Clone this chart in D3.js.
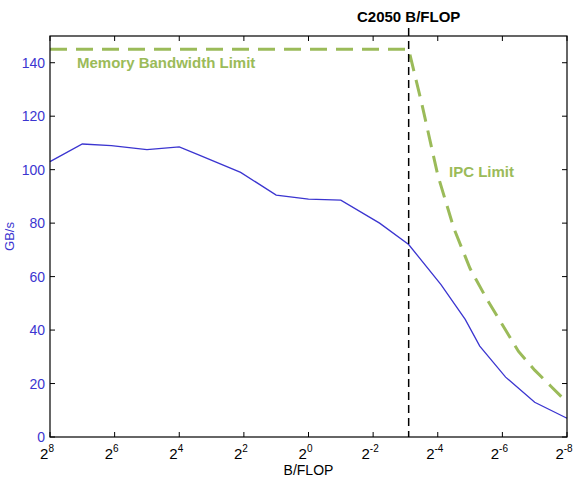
<!DOCTYPE html>
<html><head><meta charset="utf-8">
<script src="https://cdn.jsdelivr.net/npm/d3@7"></script>
<style>body{margin:0;background:#fff;font-family:"Liberation Sans",Arial,sans-serif}</style>
</head><body><div id="chart"></div>
<script>
// log2(B/FLOP) vs GB/s
const measuredExp = [8, 7, 6.1, 5, 4, 3.4, 2.1, 1, 0, -1, -2.2, -3.1, -4.1, -4.85, -5.3, -6.1, -7, -8];
const measuredGBs = [103, 109.6, 109, 107.5, 108.5, 105.5, 99, 90.5, 89, 88.6, 80, 72, 57, 44, 34, 22.4, 13, 7];
const limitExp = [8, -3.1, -3.5, -4, -4.5, -5, -5.5, -6, -6.5, -7, -7.5, -8];
const limitGBs = [145, 145, 125, 98, 78, 63, 52, 42, 32, 25, 19, 13];
const c2050Exp = -3.1;
const xTickExps = [8, 6, 4, 2, 0, -2, -4, -6, -8];
const yTicks = [0, 20, 40, 60, 80, 100, 120, 140];

const W = 578, H = 478;
const m = {left: 50, right: 11, top: 36, bottom: 41};
const blue = "#3b35d0", green = "#9bbb59";

const svg = d3.select("#chart").append("svg").attr("width", W).attr("height", H);
const x = d3.scaleLinear().domain([8, -8]).range([m.left, W - m.right]);
const y = d3.scaleLinear().domain([0, 150]).range([H - m.bottom, m.top]);

const line = d3.line().x(d => x(d[0])).y(d => y(d[1]));

// ticks inward on all four sides
const g = svg.append("g");
xTickExps.forEach(e => {
    g.append("line").attr("x1", x(e)).attr("x2", x(e)).attr("y1", y(0)).attr("y2", y(0) - 5).attr("stroke", "#000");
    g.append("line").attr("x1", x(e)).attr("x2", x(e)).attr("y1", y(150)).attr("y2", y(150) + 5).attr("stroke", "#000");
    const t = g.append("text").attr("x", x(e) - 3).attr("y", y(0) + 22).attr("text-anchor", "middle")
        .attr("font-size", 15).attr("fill", "#000");
    t.append("tspan").text("2");
    t.append("tspan").attr("dy", -7).attr("font-size", 10).text(e);
});
yTicks.forEach(v => {
    g.append("line").attr("x1", x(8)).attr("x2", x(8) + 5).attr("y1", y(v)).attr("y2", y(v)).attr("stroke", "#000");
    g.append("line").attr("x1", x(-8)).attr("x2", x(-8) - 5).attr("y1", y(v)).attr("y2", y(v)).attr("stroke", "#000");
    g.append("text").attr("x", m.left - 5).attr("y", y(v) + 5).attr("text-anchor", "end")
        .attr("font-size", 14).attr("fill", blue).text(v);
});

svg.append("path").datum(d3.zip(limitExp, limitGBs)).attr("d", line)
    .attr("fill", "none").attr("stroke", green).attr("stroke-width", 3).attr("stroke-dasharray", "17,9");
svg.append("path").datum(d3.zip(measuredExp, measuredGBs)).attr("d", line)
    .attr("fill", "none").attr("stroke", blue).attr("stroke-width", 1.3);

svg.append("line").attr("x1", x(c2050Exp)).attr("x2", x(c2050Exp)).attr("y1", 28).attr("y2", y(0))
    .attr("stroke", "#000").attr("stroke-width", 1.5).attr("stroke-dasharray", "8,5");

svg.append("rect").attr("x", m.left).attr("y", m.top).attr("width", W - m.left - m.right)
    .attr("height", H - m.top - m.bottom).attr("fill", "none").attr("stroke", "#000").attr("stroke-width", 1.2);

svg.append("text").attr("x", x(c2050Exp)).attr("y", 22).attr("text-anchor", "middle")
    .attr("font-size", 15).attr("font-weight", "bold").text("C2050 B/FLOP");
svg.append("text").attr("x", 77).attr("y", 68).attr("font-size", 15).attr("font-weight", "bold")
    .attr("fill", green).text("Memory Bandwidth Limit");
svg.append("text").attr("x", 449).attr("y", 177).attr("font-size", 15).attr("font-weight", "bold")
    .attr("fill", green).text("IPC Limit");
svg.append("text").attr("x", (m.left + W - m.right) / 2).attr("y", H - 3).attr("text-anchor", "middle")
    .attr("font-size", 14).text("B/FLOP");
svg.append("text").attr("transform", `translate(14,${y(75)}) rotate(-90)`).attr("text-anchor", "middle")
    .attr("font-size", 13).attr("fill", blue).text("GB/s");
</script></body></html>
